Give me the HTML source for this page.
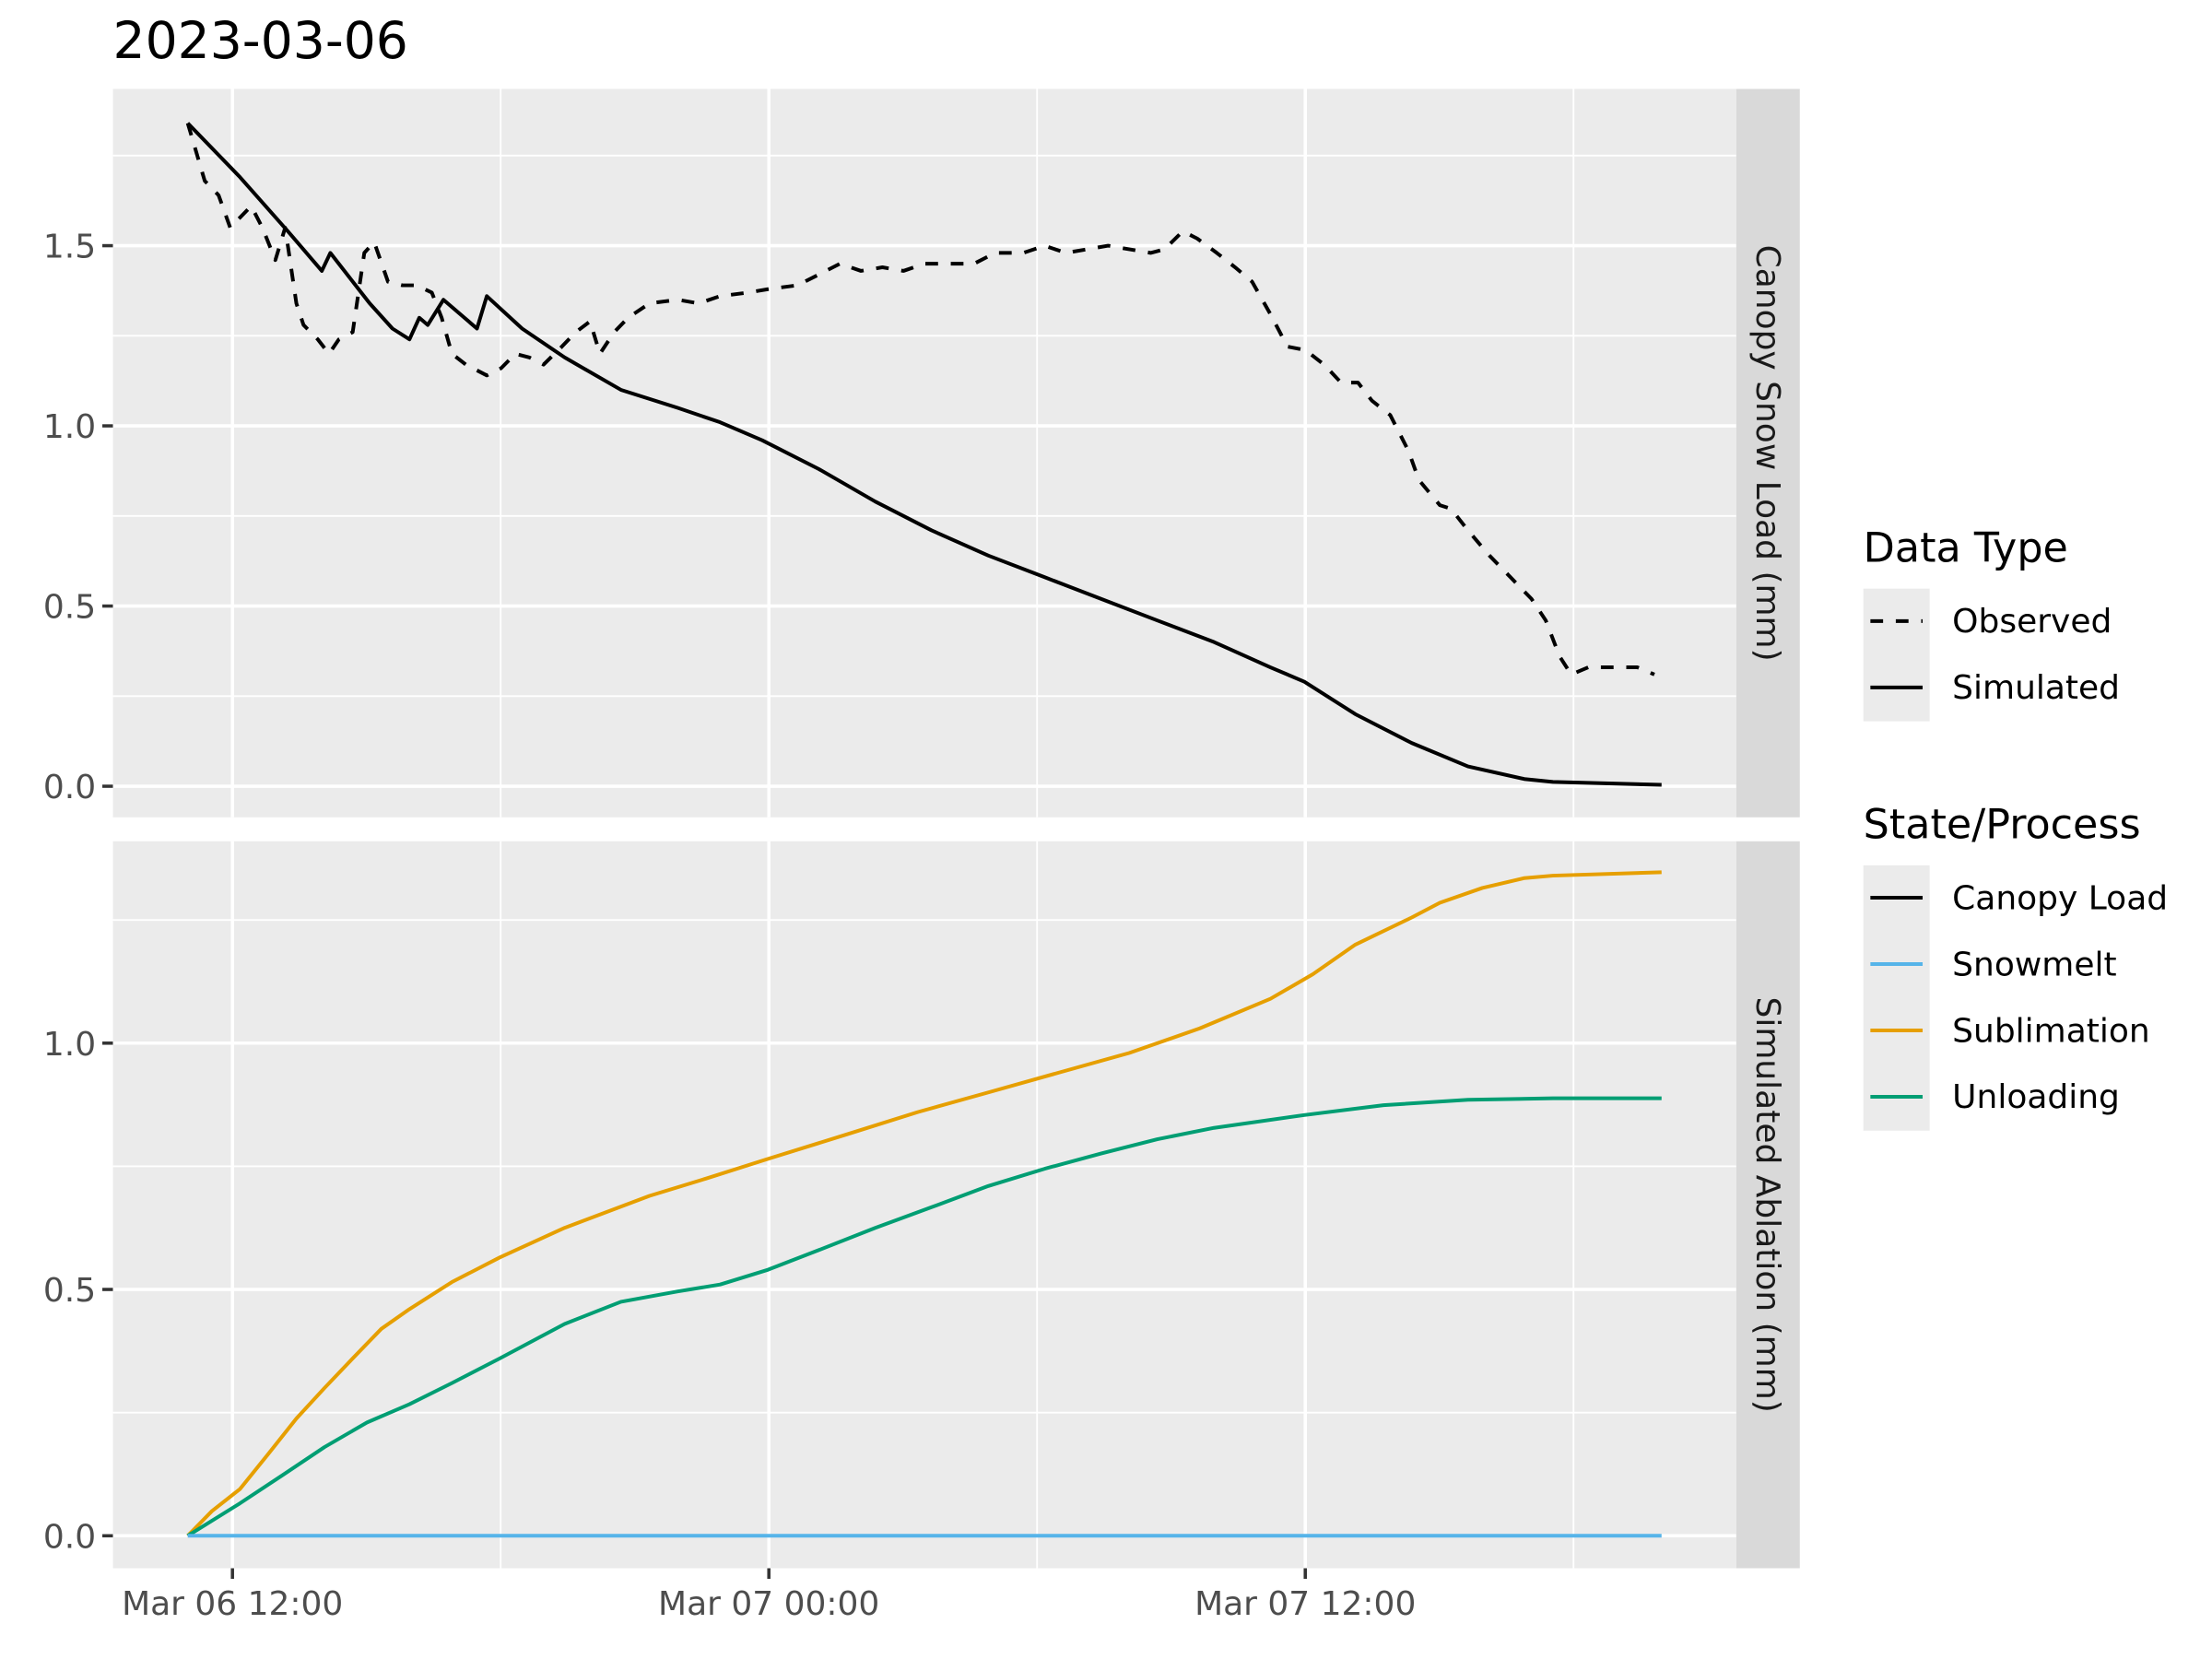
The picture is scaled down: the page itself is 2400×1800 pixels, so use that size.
<!DOCTYPE html>
<html><head><meta charset="utf-8">
<style>
html,body{margin:0;padding:0;background:#fff;}
svg{display:block;font-family:"DejaVu Sans","Liberation Sans",sans-serif;}
</style></head>
<body>
<svg id="chart" width="2400" height="1800" viewBox="0 0 1567 1175.3" preserveAspectRatio="none" xmlns="http://www.w3.org/2000/svg">
<text x="80" y="41" font-size="36" fill="#000">2023-03-06</text>
<g id="topPanel"></g>
<g id="botPanel"></g>
<g id="axes"></g>
<g>
  <text x="1320" y="398" font-size="29" fill="#000">Data Type</text>
  <rect x="1320" y="417" width="47" height="94" fill="#EBEBEB"/>
  <g><line x1="1325" x2="1362" y1="440" y2="440" stroke="#000" stroke-width="2.6" stroke-dasharray="9,9"/><text x="1383" y="448" font-size="23.5" fill="#000">Observed</text></g>
  <g><line x1="1325" x2="1362" y1="487" y2="487" stroke="#000" stroke-width="2.6"/><text x="1383" y="495" font-size="23.5" fill="#000">Simulated</text></g>
</g>
<g>
  <text x="1320" y="594" font-size="29" fill="#000">State/Process</text>
  <rect x="1320" y="613" width="47" height="188" fill="#EBEBEB"/>
  <g><line x1="1325" x2="1362" y1="636" y2="636" stroke="#000" stroke-width="2.6"/><text x="1383" y="644" font-size="23.5">Canopy Load</text></g>
  <g><line x1="1325" x2="1362" y1="683" y2="683" stroke="#56B4E9" stroke-width="2.6"/><text x="1383" y="691" font-size="23.5">Snowmelt</text></g>
  <g><line x1="1325" x2="1362" y1="730" y2="730" stroke="#E69F00" stroke-width="2.6"/><text x="1383" y="738" font-size="23.5">Sublimation</text></g>
  <g><line x1="1325" x2="1362" y1="777" y2="777" stroke="#009E73" stroke-width="2.6"/><text x="1383" y="785" font-size="23.5">Unloading</text></g>
</g>
</svg>
<script>
// hours since Mar 06 11:00
const simT=[0,1.17,2.24,3.0,3.19,4.07,4.58,4.96,5.18,5.37,5.72,6.47,6.69,7.48,8.43,9.69,10.96,11.91,12.85,14.12,15.38,16.64,17.91,19.17,20.43,21.69,22.96,24.22,24.98,26.12,27.38,28.64,29.9,30.54,32.97];
const simV=[1.84,1.69,1.54,1.43,1.48,1.34,1.27,1.24,1.30,1.28,1.35,1.27,1.36,1.27,1.19,1.10,1.05,1.01,0.96,0.88,0.79,0.71,0.64,0.58,0.52,0.46,0.40,0.33,0.29,0.20,0.12,0.055,0.02,0.012,0.004];
const obsT=[0,.38,.69,.95,1.42,1.67,1.96,2.18,2.43,2.59,2.91,3.16,3.38,3.69,3.95,4.17,4.48,4.8,5.12,5.46,5.68,5.91,6.22,6.69,7.01,7.33,7.64,7.96,8.37,8.68,9.0,9.22,9.54,9.85,10.33,10.96,11.43,11.91,12.54,13.01,13.64,14.12,14.59,15.06,15.54,16.01,16.48,17.12,17.59,18.06,18.69,19.17,19.64,20.12,20.59,21.06,21.54,21.85,22.26,22.58,23.02,23.43,23.81,24.22,24.6,25.01,25.42,25.8,26.18,26.49,26.9,27.31,27.54,28.01,28.26,28.64,29.12,29.59,30.06,30.38,30.69,30.95,31.33,31.8,32.43,32.81];
const obsV=[1.84,1.68,1.64,1.55,1.61,1.55,1.46,1.55,1.34,1.28,1.24,1.20,1.24,1.26,1.48,1.51,1.40,1.39,1.39,1.37,1.30,1.20,1.17,1.14,1.16,1.20,1.19,1.17,1.22,1.26,1.29,1.20,1.26,1.30,1.34,1.35,1.34,1.36,1.37,1.38,1.39,1.42,1.45,1.43,1.44,1.43,1.45,1.45,1.45,1.48,1.48,1.50,1.48,1.49,1.50,1.49,1.48,1.49,1.54,1.52,1.48,1.44,1.40,1.31,1.22,1.21,1.17,1.12,1.12,1.07,1.03,0.93,0.85,0.78,0.77,0.71,0.64,0.58,0.52,0.46,0.36,0.31,0.33,0.33,0.33,0.31];
const subT=[0,.54,1.17,1.8,2.43,3.06,3.69,4.33,4.96,5.91,6.98,8.43,10.33,11.59,12.98,14.75,16.33,17.91,19.48,21.06,22.64,24.22,25.17,26.12,27.38,28.01,28.96,29.9,30.54,32.97];
const subV=[0,0.05,0.095,0.166,0.238,0.30,0.36,0.42,0.46,0.515,0.565,0.625,0.69,0.725,0.765,0.815,0.86,0.9,0.94,0.98,1.03,1.09,1.14,1.2,1.255,1.285,1.315,1.335,1.34,1.347];
const unlT=[0,1.17,2.12,3.06,4.01,4.96,5.91,6.98,8.43,9.69,10.96,11.91,12.98,14.12,15.38,16.64,17.91,19.17,20.43,21.69,22.96,24.98,26.75,28.64,30.54,32.97];
const unlV=[0,0.066,0.123,0.18,0.23,0.267,0.31,0.36,0.43,0.475,0.496,0.51,0.54,0.58,0.625,0.667,0.71,0.745,0.776,0.805,0.828,0.854,0.874,0.885,0.888,0.888];
const meltT=[0,32.97];
const meltV=[0,0];
const xTickHours=[1,13,25];
const xTickLabels=["Mar 06 12:00","Mar 07 00:00","Mar 07 12:00"];
const xMinorHours=[7,19,31];
const topTicks=[0,0.5,1.0,1.5];
const topTickLabels=["0.0","0.5","1.0","1.5"];
const botTicks=[0,0.5,1.0];
const botTickLabels=["0.0","0.5","1.0"];

const NS="http://www.w3.org/2000/svg";
const X=t=>133+t*31.667;
const yTop=v=>557-v*255.3;
const yBot=v=>1088-v*349;
function mk(tag,attrs,parent){const e=document.createElementNS(NS,tag);for(const k in attrs)e.setAttribute(k,attrs[k]);parent.appendChild(e);return e;}
const axesG=document.getElementById('axes');

function panel(g,y0,y1,yf,ticks,labels,minorMax,stripLabel,stripName){
  const bg=mk('rect',{x:80,y:y0,width:1150,height:y1-y0,fill:'#EBEBEB'},g);
  
  
  for(let v=0.25;v<=minorMax;v+=0.5){
    const l=mk('line',{x1:80,x2:1230,y1:yf(v),y2:yf(v),stroke:'#fff','stroke-width':1.2},g);
    
    
  }
  xMinorHours.forEach(h=>{
    const l=mk('line',{x1:X(h),x2:X(h),y1:y0,y2:y1,stroke:'#fff','stroke-width':1.2},g);
    
    
  });
  ticks.forEach((v,i)=>{
    const l=mk('line',{x1:80,x2:1230,y1:yf(v),y2:yf(v),stroke:'#fff','stroke-width':2.3},g);
    
    
    const tk=mk('line',{x1:72.5,x2:80,y1:yf(v),y2:yf(v),stroke:'#333','stroke-width':2.3},axesG);
    
    
    const tx=mk('text',{x:68,y:yf(v)+8.5,'text-anchor':'end','font-size':23.5,fill:'#4D4D4D'},axesG);
    tx.textContent=labels[i];
    
    
  });
  xTickHours.forEach(h=>{
    const l=mk('line',{x1:X(h),x2:X(h),y1:y0,y2:y1,stroke:'#fff','stroke-width':2.3},g);
    
    
  });
  const st=mk('rect',{x:1230,y:y0,width:45,height:y1-y0,fill:'#D9D9D9'},g);
  
  
  const cy=(y0+y1)/2;
  const stt=mk('text',{x:1252,y:cy,'text-anchor':'middle','dominant-baseline':'central','font-size':23.5,fill:'#1A1A1A',transform:'rotate(90 1252 '+cy+')'},g);
  stt.textContent=stripLabel;
  
  
}
function series(g,T,V,yf,color,name,dash){
  const d=T.map((t,i)=>(i?'L':'M')+X(t).toFixed(2)+','+yf(V[i]).toFixed(2)).join('');
  const p=mk('path',{d:d,fill:'none',stroke:color,'stroke-width':2.6,'stroke-linejoin':'round'},g);
  if(dash)p.setAttribute('stroke-dasharray','9,9');
  
  
}
const topG=document.getElementById('topPanel'), botG=document.getElementById('botPanel');
panel(topG,63,579,yTop,topTicks,topTickLabels,1.75,'Canopy Snow Load (mm)','strip-canopy-snow-load');
panel(botG,596,1111,yBot,botTicks,botTickLabels,1.25,'Simulated Ablation (mm)','strip-simulated-ablation');
series(topG,obsT,obsV,yTop,'#000','observed-canopy-load-line',true);
series(topG,simT,simV,yTop,'#000','simulated-canopy-load-line',false);
series(botG,subT,subV,yBot,'#E69F00','sublimation-line',false);
series(botG,unlT,unlV,yBot,'#009E73','unloading-line',false);
series(botG,meltT,meltV,yBot,'#56B4E9','snowmelt-line',false);
xTickHours.forEach((h,i)=>{
  const tk=mk('line',{x1:X(h),x2:X(h),y1:1111,y2:1118.5,stroke:'#333','stroke-width':2.3},axesG);
  
  
  const tx=mk('text',{x:X(h),y:1144,'text-anchor':'middle','font-size':23.5,fill:'#4D4D4D'},axesG);
  tx.textContent=xTickLabels[i];
  
  
});
</script>
</body></html>
